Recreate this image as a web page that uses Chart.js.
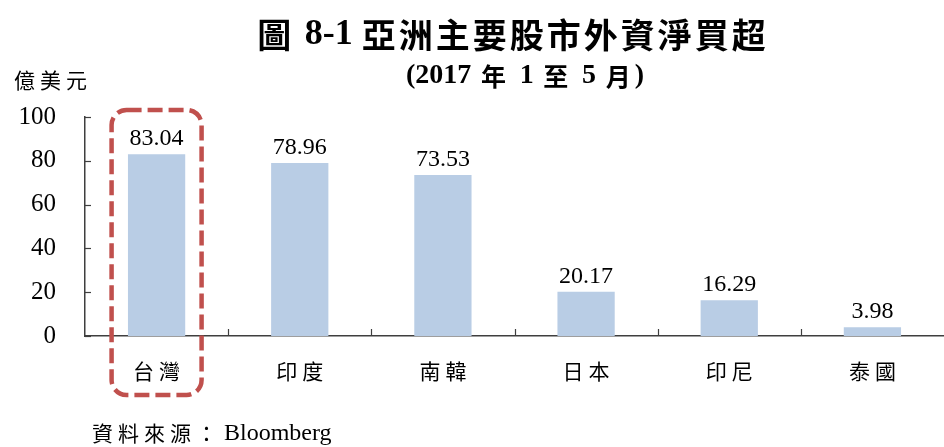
<!DOCTYPE html>
<html>
<head>
<meta charset="utf-8">
<script src="https://cdn.jsdelivr.net/npm/chart.js@4.4.1/dist/chart.umd.min.js"></script>
<style>
  html, body { margin: 0; padding: 0; background: #fff; }
  #wrap { width: 944px; height: 447px; }
</style>
</head>
<body>
<div id="wrap"><canvas id="main-chart" width="944" height="447"></canvas></div>
<script>
const markets = [`台灣`, `印度`, `南韓`, `日本`, `印尼`, `泰國`];
const netBuy = [83.04, 78.96, 73.53, 20.17, 16.29, 3.98];
const yTicks = [0, 20, 40, 60, 80, 100];

const BAR_BLUE = `#B9CDE5`;
const AXIS_GRAY = `#3f3f3f`;
const BOX_RED = `#C0504D`;
const SERIF = `"Liberation Serif", "Noto Sans CJK TC", serif`;
const CJK = `"Noto Sans CJK TC", "Liberation Serif", sans-serif`;

// draw mixed serif / CJK pieces on one line, centred on cx
let drawRuns = (ctx, runs, cx, y) => {
	let widths = runs.map(([text, font, spacing]) => {
		ctx.font = font;
		ctx.letterSpacing = spacing;
		return ctx.measureText(text).width;
	});
	let x = cx - widths.reduce((a, b) => a + b, 0) / 2;
	ctx.textAlign = `left`;
	runs.forEach(([text, font, spacing], i) => {
		ctx.font = font;
		ctx.letterSpacing = spacing;
		ctx.fillText(text, x, y);
		x += widths[i];
	});
	ctx.letterSpacing = `0px`;
};

// titles, unit, source, labels, inward ticks and the highlight box
const decorations = {
	id: `decorations`,
	afterDatasetsDraw: (chart) => {
		let ctx = chart.ctx;
		let xs = chart.scales.x, ys = chart.scales.y;
		let area = chart.chartArea;
		ctx.save();

		// inward tick marks
		ctx.strokeStyle = AXIS_GRAY;
		ctx.lineWidth = 1.2;
		for (let v of yTicks) {
			let y = Math.round(ys.getPixelForValue(v)) + 0.5;
			ctx.beginPath();
			ctx.moveTo(area.left, y);
			ctx.lineTo(area.left + 6, y);
			ctx.stroke();
		}
		let step = (area.right - area.left) / markets.length;
		for (let i = 1; i < markets.length; i++) {
			let x = Math.round(area.left + step * i) + 0.5;
			ctx.beginPath();
			ctx.moveTo(x, area.bottom);
			ctx.lineTo(x, area.bottom - 7);
			ctx.stroke();
		}

		// values above bars
		ctx.fillStyle = `#000`;
		ctx.font = `24px ${SERIF}`;
		ctx.textAlign = `center`;
		ctx.textBaseline = `alphabetic`;
		netBuy.forEach((v, i) => {
			ctx.fillText(v.toFixed(2), xs.getPixelForValue(i), ys.getPixelForValue(v) - 9);
		});

		// category names, spaced out
		ctx.font = `21px ${CJK}`;
		ctx.letterSpacing = `5px`;
		ctx.textBaseline = `middle`;
		markets.forEach((m, i) => {
			ctx.fillText(m, xs.getPixelForValue(i) + 2.5, 371);
		});
		ctx.letterSpacing = `0px`;

		// titles
		let tCjk = `bold 34px ${CJK}`, tSerif = `bold 36px ${SERIF}`;
		drawRuns(ctx, [
			[`圖 `, tCjk, `3px`],
			[`8-1 `, tSerif, `0px`],
			[`亞洲主要股市外資淨買超`, tCjk, `3px`],
		], 513, 35);
		let sCjk = `bold 25px ${CJK}`, sSerif = `bold 28px ${SERIF}`;
		drawRuns(ctx, [
			[`(2017`, sSerif, `0px`],
			[` 年 `, sCjk, `4px`],
			[`1`, sSerif, `0px`],
			[` 至 `, sCjk, `4px`],
			[`5`, sSerif, `0px`],
			[` 月`, sCjk, `4px`],
			[`)`, sSerif, `0px`],
		], 525, 76);

		ctx.textAlign = `left`;
		ctx.letterSpacing = `5px`;
		ctx.font = `21px ${CJK}`;
		ctx.fillText(`億美元`, 14, 80);
		ctx.fillText(`資料來源：`, 92, 433);
		ctx.letterSpacing = `0px`;
		ctx.font = `24px ${SERIF}`;
		ctx.fillText(`Bloomberg`, 224, 434);

		// dashed box round the first market
		let cx = xs.getPixelForValue(0);
		ctx.strokeStyle = BOX_RED;
		ctx.lineWidth = 4.5;
		ctx.setLineDash([15, 6]);
		ctx.beginPath();
		ctx.roundRect(cx - 45, 110, 90, 285, 15);
		ctx.stroke();

		ctx.restore();
	},
};

new Chart(document.getElementById(`main-chart`).getContext(`2d`), {
	type: `bar`,
	data: {
		labels: markets,
		datasets: [{
			data: netBuy,
			backgroundColor: BAR_BLUE,
			categoryPercentage: 1,
			barPercentage: 0.4,
		}],
	},
	options: {
		responsive: false,
		animation: false,
		devicePixelRatio: 1,
		layout: { padding: { top: 117, right: 0, bottom: 0, left: 0 } },
		plugins: {
			legend: { display: false },
			title: { display: false },
			tooltip: { enabled: false },
		},
		scales: {
			x: {
				grid: { display: false, drawTicks: false },
				border: { display: true, color: AXIS_GRAY, width: 1.5 },
				ticks: { display: false },
				afterFit: (scale) => { scale.height = 447 - 336; },
			},
			y: {
				min: 0,
				max: 100,
				grid: { display: false, drawTicks: false },
				border: { display: true, color: AXIS_GRAY, width: 1.5 },
				ticks: { stepSize: 20, color: `#000`, font: { family: SERIF, size: 25 }, padding: 29 },
				afterFit: (scale) => { scale.width = 85; },
			},
		},
	},
	plugins: [decorations],
});
</script>
</body>
</html>
